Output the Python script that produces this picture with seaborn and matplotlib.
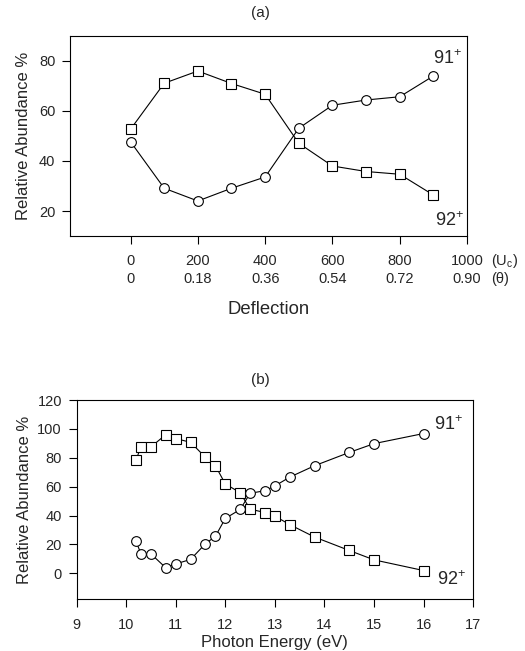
import matplotlib
matplotlib.use("Agg")
import matplotlib.pyplot as plt
import seaborn as sns
import pandas as pd

# Panel (a): deflection scan
deflect_uc = [0, 100, 200, 300, 400, 500, 600, 700, 800, 900]
a_91 = [47.7, 29.1, 24.0, 29.1, 33.6, 53.1, 62.3, 64.4, 65.7, 74.0]
a_92 = [52.7, 71.1, 76.0, 71.0, 66.7, 47.1, 38.0, 35.8, 34.7, 26.4]
uc_ticks = [0, 200, 400, 600, 800, 1000]
theta_labels = ["0", "0.18", "0.36", "0.54", "0.72", "0.90"]

# Panel (b): photon energy scan
energy = [10.2, 10.3, 10.5, 10.8, 11.0, 11.3, 11.6, 11.8, 12.0,
          12.3, 12.5, 12.8, 13.0, 13.3, 13.8, 14.5, 15.0, 16.0]
b_91 = [22.1, 13.5, 13.5, 3.8, 6.5, 9.6, 20.5, 25.6, 38.0,
        44.2, 55.4, 57.2, 60.5, 66.6, 74.5, 83.7, 89.8, 96.8]
b_92 = [78.6, 87.5, 87.5, 96.0, 93.3, 90.7, 80.3, 74.5, 61.9,
        55.8, 44.4, 42.1, 39.6, 33.7, 25.1, 15.8, 9.3, 1.9]

sns.set_style("ticks")
plt.rcParams["font.family"] = ["Liberation Sans", "DejaVu Sans"]
plt.rcParams["mathtext.fontset"] = "custom"
plt.rcParams["mathtext.rm"] = "Liberation Sans"
plt.rcParams["mathtext.it"] = "Liberation Sans:italic"
plt.rcParams["xtick.direction"] = "out"
plt.rcParams["ytick.direction"] = "out"

fig = plt.figure(figsize=(5.25, 6.51), dpi=100)
ax1 = fig.add_axes([70 / 525, 1 - 236 / 651, 397 / 525, 200 / 651])
ax2 = fig.add_axes([76.5 / 525, 1 - 599.3 / 651, 396.8 / 525, 199.3 / 651])

df_a = pd.DataFrame({"x": deflect_uc, "m91": a_91, "m92": a_92})
df_b = pd.DataFrame({"x": energy, "m91": b_91, "m92": b_92})

mk = dict(color="black", linewidth=0.8, markersize=7, markerfacecolor="white",
          markeredgecolor="black", markeredgewidth=0.8, estimator=None)

for ax, df in [(ax1, df_a), (ax2, df_b)]:
    sns.lineplot(data=df, x="x", y="m92", marker="s", ax=ax, **mk)
    sns.lineplot(data=df, x="x", y="m91", marker="o", ax=ax, **mk)
    for s in ax.spines.values():
        s.set_linewidth(0.8)
        s.set_color("black")
    ax.tick_params(length=5.5, width=0.8, labelsize=10.5, color="black")
    ax.tick_params(axis="y", pad=5)

# panel (a) axes
ax1.set_xlim(-180, 1000)
ax1.set_ylim(10, 90)
ax1.set_yticks([20, 40, 60, 80])
ax1.set_xticks(uc_ticks)
ax1.set_xticklabels([f"{u}\n{t}" for u, t in zip(uc_ticks, theta_labels)],
                    linespacing=1.35)
ax1.tick_params(axis="x", pad=7.5)
ax1.set_xlabel("Deflection", fontsize=13.3, labelpad=11)
ax1.set_ylabel("Relative Abundance %", fontsize=12, labelpad=6)
ax1.text(1.06, -0.125, r"(U$_\mathrm{c}$)", transform=ax1.transAxes,
         fontsize=10.5, va="center", ha="left")
ax1.text(1.06, -0.215, "(θ)", transform=ax1.transAxes,
         fontsize=10.5, va="center", ha="left")
ax1.text(900, 81, r"91$^{+}$", fontsize=13, va="center")
ax1.text(905, 16.3, r"92$^{+}$", fontsize=13, va="center")

# panel (b) axes
ax2.set_xlim(9, 17)
ax2.set_ylim(-18, 120)
ax2.set_xticks(range(9, 18))
ax2.set_yticks(range(0, 121, 20))
ax2.tick_params(axis="x", pad=8)
ax2.set_xlabel("Photon Energy (eV)", fontsize=12, labelpad=2)
ax2.set_ylabel("Relative Abundance %", fontsize=12, labelpad=4)
ax2.text(16.21, 103, r"91$^{+}$", fontsize=13, va="center")
ax2.text(16.27, -4.4, r"92$^{+}$", fontsize=13, va="center")

fig.text(260 / 525, 1 - 13 / 651, "(a)", fontsize=11, ha="center", va="center")
fig.text(260 / 525, 1 - 380 / 651, "(b)", fontsize=11, ha="center", va="center")

fig.savefig("out.png", dpi=100)
